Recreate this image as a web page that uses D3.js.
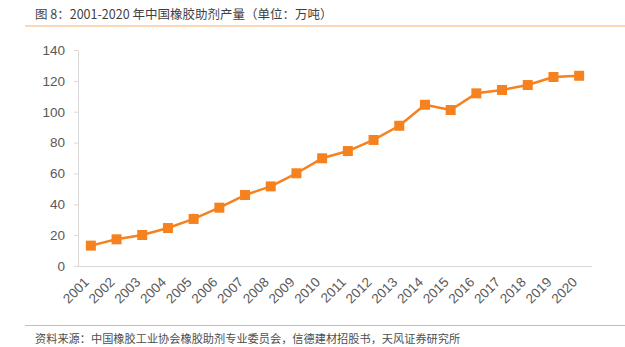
<!DOCTYPE html>
<html>
<head>
<meta charset="utf-8">
<script src="https://cdn.jsdelivr.net/npm/d3@7"></script>
<style>
  html, body { margin: 0; padding: 0; background: #fff; }
  svg { display: block; }
</style>
</head>
<body>
<svg id="chart" width="625" height="347"></svg>
<script>
// 2001-2020 rubber additive output in China (10k tonnes)
const years = ["2001","2002","2003","2004","2005","2006","2007","2008","2009","2010",
               "2011","2012","2013","2014","2015","2016","2017","2018","2019","2020"];
const output = [13.2, 17.3, 20.1, 24.6, 30.5, 37.8, 46.0, 51.6, 60.1, 69.8,
                74.5, 81.7, 90.9, 104.5, 101.1, 111.9, 114.1, 117.3, 122.5, 123.3];
const yTicks = [0, 20, 40, 60, 80, 100, 120, 140];
const titleText = "图 8：2001-2020 年中国橡胶助剂产量（单位：万吨）";
const sourceText = "资料来源：中国橡胶工业协会橡胶助剂专业委员会，信德建材招股书，天风证券研究所";

const svg = d3.select("#chart");
const orange = "#F5821F";
const cjk = "'Noto Sans CJK SC', 'Noto Sans', sans-serif";
const latin = "'Liberation Sans', Arial, sans-serif";

// header
svg.append("text").attr("x", 35).attr("y", 19)
  .attr("font-family", cjk).attr("font-size", 12.5)
  .attr("fill", "#3f3f3f").text(titleText);
svg.append("line").attr("x1", 25).attr("x2", 625).attr("y1", 26).attr("y2", 26)
  .attr("stroke", "#F8B070").attr("stroke-width", 1.2);

// footer
svg.append("line").attr("x1", 25).attr("x2", 625).attr("y1", 325.5).attr("y2", 325.5)
  .attr("stroke", "#F8B070").attr("stroke-width", 1.2);
svg.append("text").attr("x", 35).attr("y", 343)
  .attr("font-family", cjk).attr("font-size", 11.2)
  .attr("fill", "#4d4d4d").text(sourceText);

// plot area
const plotLeft = 78, plotRight = 592, plotTop = 50, plotBottom = 266;
const x = d3.scaleBand().domain(years).range([plotLeft, plotRight]);
const y = d3.scaleLinear().domain([0, 140]).range([plotBottom, plotTop]);

// y axis
const yAxis = svg.append("g").attr("transform", `translate(${plotLeft},0)`)
  .call(d3.axisLeft(y).tickValues(yTicks).tickSize(4).tickPadding(9));
yAxis.select(".domain").attr("stroke", "#d9d9d9");
yAxis.selectAll(".tick line").attr("stroke", "#d9d9d9");
yAxis.selectAll(".tick text").attr("font-family", latin).attr("font-size", 13.5)
  .attr("fill", "#595959");

// x axis
const xAxis = svg.append("g").attr("transform", `translate(0,${plotBottom})`)
  .call(d3.axisBottom(x).tickSize(0).tickPadding(0));
xAxis.select(".domain").attr("stroke", "#d9d9d9").attr("d", `M${plotLeft},0.5H${plotRight}`);
xAxis.selectAll(".tick text")
  .attr("font-family", latin).attr("font-size", 13.5).attr("fill", "#595959")
  .attr("text-anchor", "end").attr("dy", null).attr("y", 0)
  .attr("transform", "translate(-1,17) rotate(-45)");

// line and square markers
const cx = d => x(d.year) + x.bandwidth() / 2;
const pts = years.map((yr, i) => ({ year: yr, v: output[i] }));
svg.append("path").datum(pts)
  .attr("fill", "none").attr("stroke", orange).attr("stroke-width", 2.5)
  .attr("stroke-linejoin", "round")
  .attr("d", d3.line().x(cx).y(d => y(d.v)));
const s = 10;
svg.append("g").selectAll("rect").data(pts).join("rect")
  .attr("x", d => cx(d) - s / 2).attr("y", d => y(d.v) - s / 2)
  .attr("width", s).attr("height", s).attr("fill", orange);
</script>
</body>
</html>
